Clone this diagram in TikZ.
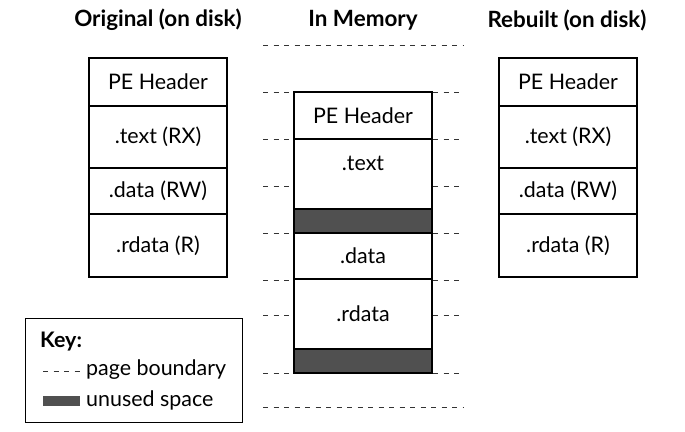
\documentclass[tikz,border=0pt]{standalone}
\usepackage{fontspec}
\setmainfont{Lato}
\definecolor{unused}{HTML}{505050}
\begin{document}
\begin{tikzpicture}[x=1bp,y=-1bp,
  sec/.style={draw=black,line width=1.2bp,outer sep=0pt,minimum width=138bp,inner sep=0pt,anchor=north west,font=\fontsize{21.5}{24}\selectfont},
  gap/.style={draw=black,fill=unused,line width=1.2bp,outer sep=0pt,minimum width=138bp,inner sep=0pt,anchor=north west},
  title/.style={font=\bfseries\fontsize{22.5}{26}\selectfont},
  lbl/.style={font=\fontsize{21.5}{24}\selectfont},
  pb/.style={dash pattern=on 5bp off 5.5bp,line width=1bp,color=black!80}]
\useasboundingbox (0,0) rectangle (685,431);
\fill[white] (0,0) rectangle (685,431);
% titles
\node[title] (t1) at (158,20) {Original (on disk)};
\node[title] (t2) at (363,20) {In Memory};
\node[title] (t3) at (567,20) {Rebuilt (on disk)};
% original
\node[sec,minimum height=48bp] (oh) at (89,58) {PE Header};
\node[sec,minimum height=62bp] (ot) at (oh.south west) {.text (RX)};
\node[sec,minimum height=46bp] (od) at (ot.south west) {.data (RW)};
\node[sec,minimum height=63bp] (or) at (od.south west) {.rdata (R)};
% rebuilt
\node[sec,minimum height=48bp] (rh) at (499,58) {PE Header};
\node[sec,minimum height=62bp] (rt) at (rh.south west) {.text (RX)};
\node[sec,minimum height=46bp] (rd) at (rt.south west) {.data (RW)};
\node[sec,minimum height=63bp] (rr) at (rd.south west) {.rdata (R)};
% memory
\node[sec,minimum height=47bp] (mh) at (294,92) {PE Header};
\node[sec,minimum height=70bp] (mt) at (mh.south west) {};
\node[lbl] (mtl) at (363,163) {.text};
\node[gap,minimum height=24bp] (mg1) at (mt.south west) {};
\node[sec,minimum height=46bp] (md) at (mg1.south west) {.data};
\node[sec,minimum height=70bp] (mr) at (md.south west) {.rdata};
\node[gap,minimum height=24bp] (mg2) at (mr.south west) {};
% page boundaries
\draw[pb] (263,45) -- (463,45);
\draw[pb] (263,407) -- (463,407);
\foreach \yy in {92,139,186,233,280,315,373}{
  \draw[pb] (263,\yy) -- (292,\yy);
  \draw[pb] (433,\yy) -- (463,\yy);
}
% key
\node[draw=black,line width=1.2bp,minimum width=217bp,minimum height=104bp,inner sep=0pt,anchor=north west] (key) at (25,318) {};
\node[font=\bfseries\fontsize{21.5}{24}\selectfont,anchor=west,inner sep=0pt] (keyt) at (40,342) {Key:};
\draw[pb] (43,371) -- (81,371);
\node[lbl,anchor=west,inner sep=0pt] (k1) at (86,370) {page boundary};
\fill[unused] (43,396) rectangle (80,406);
\node[lbl,anchor=west,inner sep=0pt] (k2) at (86,400) {unused space};
\end{tikzpicture}
\end{document}
